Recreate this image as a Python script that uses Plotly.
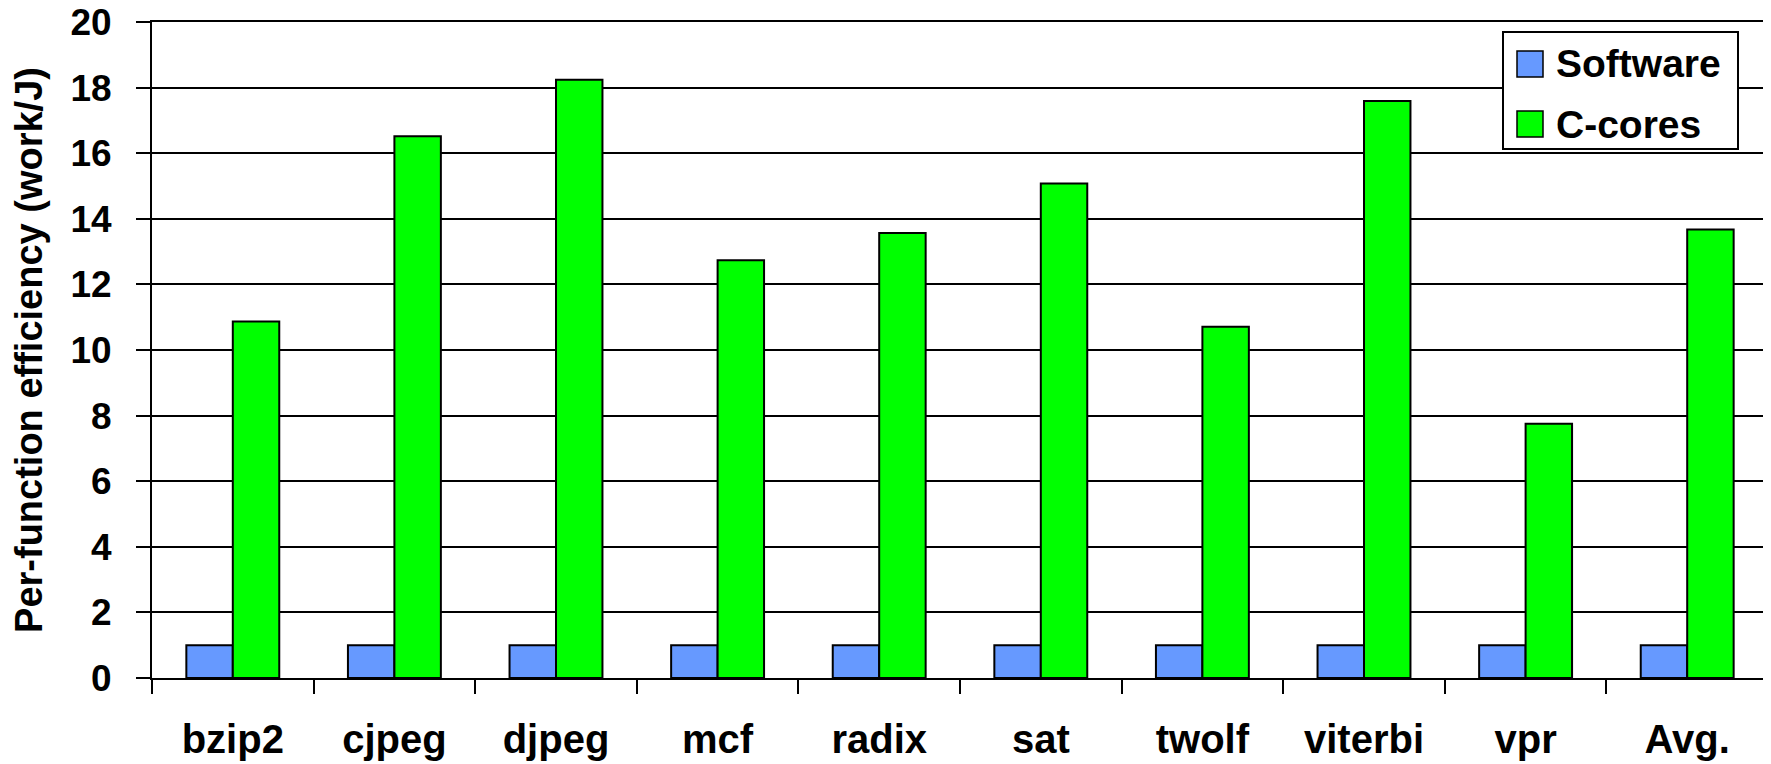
import plotly.graph_objects as go

# benchmark names and per-function efficiency (work/J)
benchmarks = ["bzip2", "cjpeg", "djpeg", "mcf", "radix", "sat", "twolf", "viterbi", "vpr", "Avg."]
software = [1, 1, 1, 1, 1, 1, 1, 1, 1, 1]
c_cores = [10.87, 16.52, 18.24, 12.74, 13.57, 15.08, 10.71, 17.59, 7.75, 13.67]

series_names = ["Software", "C-cores"]
series_colors = ["#6699FF", "#00FF00"]

W, H = 1771, 764
OFF = 8  # page body margin
L, R, T, B = 144, 11, 14, 94
FONT = "Liberation Sans, Arial, sans-serif"


def px_x(p):
    # screen pixel -> paper coords
    return (p - OFF - L) / (W - L - R)


def px_y(p):
    return (H - B - (p - OFF)) / (H - T - B)


fig = go.Figure()
for name, vals, col in zip(series_names, [software, c_cores], series_colors):
    fig.add_trace(go.Bar(
        x=benchmarks, y=vals, name=name,
        marker=dict(color=col, line=dict(color="black", width=2)),
        showlegend=False,
    ))

fig.update_layout(
    width=W, height=H,
    template="none",
    barmode="group", bargap=0.425, bargroupgap=0,
    margin=dict(l=L, r=R, t=T, b=B, autoexpand=False),
    paper_bgcolor="white", plot_bgcolor="white",
    font=dict(family=FONT, color="black", size=36, weight="bold"),
)

fig.update_xaxes(
    type="category", tickson="boundaries", ticks="outside", ticklen=14,
    tickwidth=2, tickcolor="black", showline=True, linewidth=2,
    linecolor="black", mirror=True, showgrid=False,
    tickfont=dict(size=40, family=FONT, weight="bold"),
    ticklabelstandoff=25, automargin=False,
)
fig.update_yaxes(
    range=[0, 20], dtick=2, ticks="outside", ticklen=14, tickwidth=2,
    tickcolor="black", showline=True, linewidth=2, linecolor="black",
    mirror=True, showgrid=True, gridcolor="black", gridwidth=2,
    zeroline=False, tickfont=dict(size=37, family=FONT, weight="bold"),
    ticklabelstandoff=17, ticklabeloverflow="allow", automargin=False,
    title=dict(text="Per-function efficiency (work/J)", standoff=25,
               font=dict(size=38, family=FONT, weight="bold")),
)

# legend box drawn by hand so the swatches match the original size
box = (1503, 32, 1738, 149)
fig.add_shape(type="rect", xref="paper", yref="paper",
              x0=px_x(box[0]), x1=px_x(box[2]), y0=px_y(box[3]), y1=px_y(box[1]),
              line=dict(color="black", width=2), fillcolor="white", layer="above")
for i, (name, col) in enumerate(zip(series_names, series_colors)):
    cy = 64 + i * 60
    fig.add_shape(type="rect", xref="paper", yref="paper",
                  x0=px_x(1517), x1=px_x(1543), y0=px_y(cy + 13), y1=px_y(cy - 13),
                  line=dict(color="black", width=1.5), fillcolor=col, layer="above")
    fig.add_annotation(x=px_x(1554), y=px_y(cy), xref="paper", yref="paper",
                       text=name, showarrow=False, xanchor="left", yanchor="middle",
                       font=dict(size=39, family=FONT, weight="bold", color="black"))

fig.write_html("out.html")
